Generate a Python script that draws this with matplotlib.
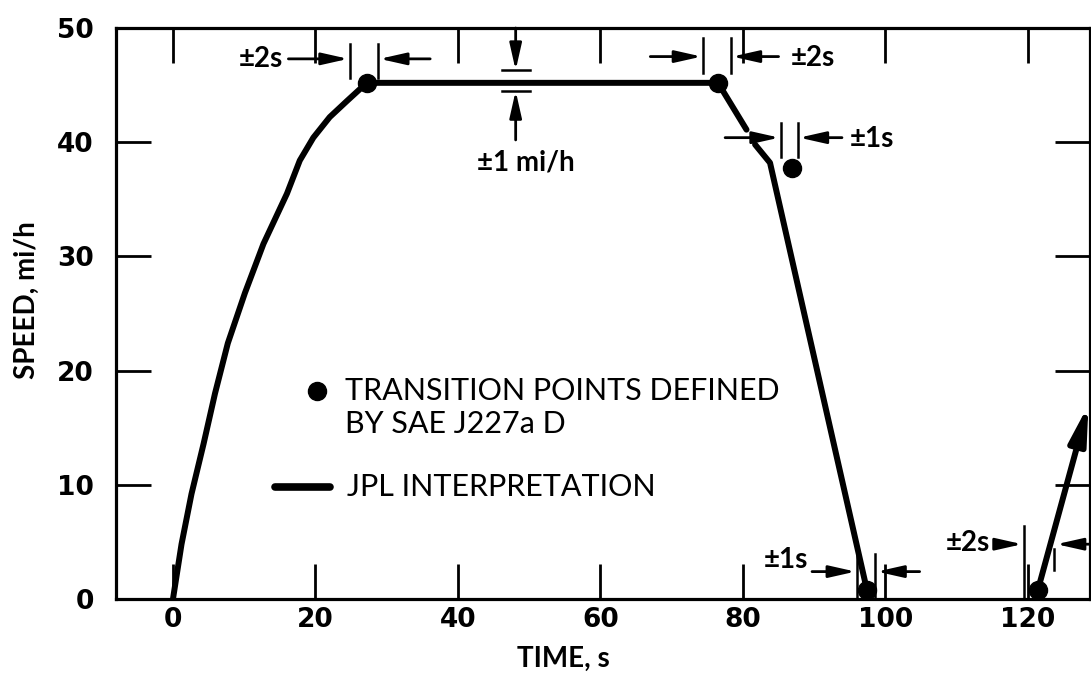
import numpy as np
import matplotlib.pyplot as plt

plt.rcParams['font.family'] = ['Lato', 'DejaVu Sans']

# JPL interpretation of the cycle (nan = gap where the arrow crosses)
jpl_time = [0, 1.2, 2.6, 4.3, 5.9, 7.7, 10.1, 12.7, 16.0, 17.8, 19.7, 22.0, 24.4, 27.2,
            76.5, 80.5, np.nan, 81.7, 83.8, 97.4]
jpl_speed = [0, 4.8, 9.2, 13.6, 18.0, 22.4, 26.8, 31.1, 35.5, 38.4, 40.4, 42.2, 43.6, 45.2,
             45.2, 41.1, np.nan, 39.8, 38.2, 0.8]

# transition points defined by SAE J227a D
sae_time = [27.2, 76.5, 86.9, 97.4, 121.4]
sae_speed = [45.2, 45.2, 37.7, 0.8, 0.8]

# last ramp (leaves the frame)
ramp_time = [121.4, 128.5]
ramp_speed = [0.8, 17]

x_ticks = [0, 20, 40, 60, 80, 100, 120]
y_ticks = [0, 10, 20, 30, 40, 50]

fig = plt.figure(figsize=(10.91, 6.77), dpi=100)
ax = fig.add_axes([0.1063, 0.1152, 0.8927, 0.8434])

ax.plot(jpl_time, jpl_speed, color='black', lw=4.3, solid_capstyle='round',
        solid_joinstyle='round', zorder=3)
ax.plot(sae_time, sae_speed, 'o', color='black', ms=13, zorder=4)
ax.annotate('', xy=(ramp_time[1], ramp_speed[1]), xytext=(ramp_time[0], ramp_speed[0]),
            arrowprops=dict(arrowstyle='-|>,head_length=1.1,head_width=0.25', color='black',
                            lw=4.3, shrinkA=0, shrinkB=0, mutation_scale=20), zorder=3)

ax.set_xlim(-8, 128.7)
ax.set_ylim(0, 50)
ax.set_xticks(x_ticks)
ax.set_yticks(y_ticks)
ax.tick_params(direction='in', length=25, width=2, top=True, right=True)
ax.tick_params(axis='x', pad=6)
ax.tick_params(axis='y', pad=16)
for lbl in ax.get_xticklabels() + ax.get_yticklabels():
    lbl.set_fontfamily('DejaVu Sans')
    lbl.set_fontweight('bold')
    lbl.set_fontsize(19)
for s in ax.spines.values():
    s.set_linewidth(2.3)

head = '-|>,head_length=0.8,head_width=0.18'


def arrow(x0, y0, x1, y1):
    ax.annotate('', xy=(x1, y1), xytext=(x0, y0),
                arrowprops=dict(arrowstyle=head, color='black', lw=2,
                                shrinkA=0, shrinkB=0, mutation_scale=20))


def vbar(x, y0, y1):
    ax.plot([x, x], [y0, y1], color='black', lw=1.8)


def hbar(y, x0, x1):
    ax.plot([x0, x1], [y, y], color='black', lw=1.8)


tol_font = dict(fontsize=20, fontweight='bold')

# +-2s at first transition
ax.text(15.4, 47.3, '±2s', ha='right', va='center', **tol_font)
arrow(16.2, 47.3, 24.6, 47.3)
vbar(24.8, 45.6, 48.6)
vbar(28.8, 45.6, 48.6)
arrow(36.1, 47.3, 29.0, 47.3)

# +-1 mi/h
hbar(46.3, 46.2, 50.1)
hbar(44.5, 46.2, 50.1)
arrow(48.1, 50, 48.1, 46.3)
arrow(48.1, 40.2, 48.1, 44.5)
ax.text(42.7, 38.2, '±1 mi/h', ha='left', va='center', **tol_font)

# +-2s at second transition
arrow(67.0, 47.5, 74.2, 47.5)
vbar(74.4, 46.1, 49.1)
vbar(78.3, 46.1, 49.1)
arrow(85.0, 47.5, 78.5, 47.5)
ax.text(86.7, 47.4, '±2s', ha='left', va='center', **tol_font)

# +-1s at third transition
arrow(77.5, 40.4, 85.1, 40.4)
vbar(85.3, 38.7, 41.7)
vbar(87.7, 38.7, 41.7)
arrow(93.9, 40.4, 87.9, 40.4)
ax.text(95.0, 40.3, '±1s', ha='left', va='center', **tol_font)

# +-1s at stop
ax.text(89.1, 3.4, '±1s', ha='right', va='center', **tol_font)
arrow(89.7, 2.4, 95.8, 2.4)
vbar(96.0, 0, 3.9)
vbar(98.5, 0, 3.9)
arrow(104.8, 2.4, 98.8, 2.4)

# +-2s at restart
ax.text(114.7, 4.9, '±2s', ha='right', va='center', **tol_font)
arrow(115.4, 4.8, 119.2, 4.8)
vbar(119.4, 0, 6.4)
vbar(123.7, 2.5, 4.4)
arrow(128.7, 4.8, 124.0, 4.8)

# key
ax.plot([20.2], [18.2], 'o', color='black', ms=13)
ax.text(24.2, 18.2, 'TRANSITION POINTS DEFINED', ha='left', va='center', fontsize=22)
ax.text(24.2, 15.3, 'BY SAE J227a D', ha='left', va='center', fontsize=22)
ax.plot([14.3, 22.0], [9.8, 9.8], color='black', lw=5.5, solid_capstyle='round')
ax.text(24.4, 9.8, 'JPL INTERPRETATION', ha='left', va='center', fontsize=22)

fig.text(563 / 1091, 1 - 659 / 677, 'TIME, s', ha='center', va='center', fontsize=20, fontweight='bold')
fig.text(27 / 1091, 1 - 300 / 677, 'SPEED, mi/h', ha='center', va='center', rotation=90,
         fontsize=20, fontweight='bold')

fig.savefig('out.png', dpi=100)
